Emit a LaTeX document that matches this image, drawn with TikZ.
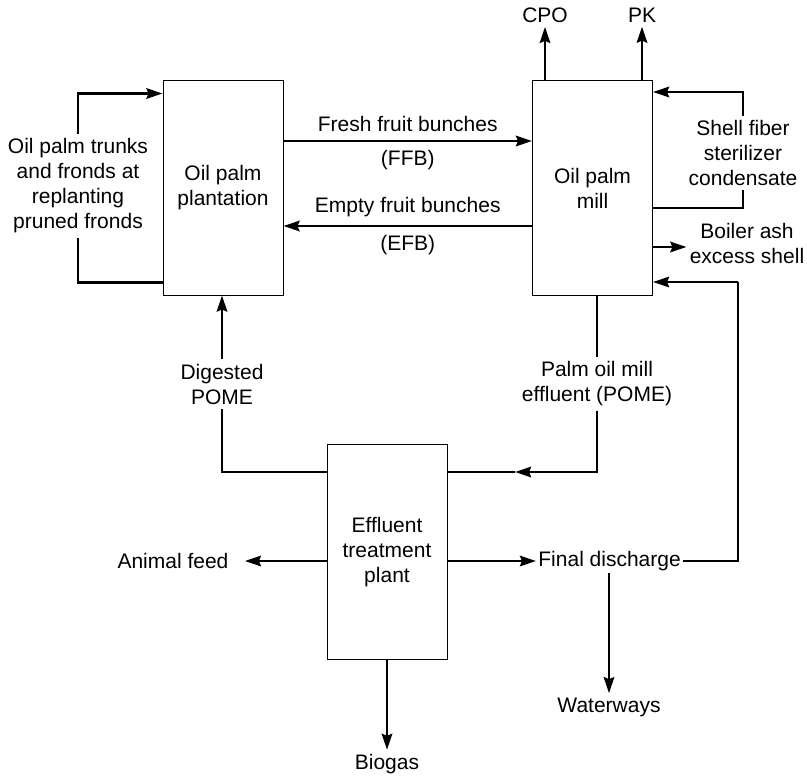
\documentclass[tikz,border=0pt]{standalone}
\usepackage{fontspec}
\setmainfont{Liberation Sans}
\usetikzlibrary{arrows.meta, positioning}

\begin{document}
\begin{tikzpicture}[
    x=0.5pt, y=-0.5pt,
    box/.style={rectangle, draw, line width=0.5pt, minimum width=60pt, minimum height=107.5pt, font=\fontsize{10.5}{12.5}\selectfont, align=center, inner sep=0pt},
    txt/.style={font=\fontsize{10.5}{12.5}\selectfont, align=center, inner sep=2pt},
    arrow/.style={-{Stealth[length=8pt, width=5.2pt, inset=1pt]}, line width=1.4pt},
    line/.style={line width=1.4pt}
]
\useasboundingbox (0,0) rectangle (807,776);

% Main blocks
\node[box] (plant) at (223,187.5) {Oil palm\\plantation};
\node[box] (mill) at (592.5,188) {Oil palm\\mill};
\node[box] (etp) at (387,552) {Effluent\\treatment\\plant};

% Labels round the plantation and mill
\node[txt] (trunks) at (78,186) {Oil palm trunks\\and fronds at\\replanting\\pruned fronds};
\node[txt] (cpo) at (545,15) {CPO};
\node[txt] (pk) at (642,15) {PK};
\node[txt] (shell) at (743,153) {Shell fiber\\sterilizer\\condensate};
\node[txt, inner sep=0pt] (boiler) at (747,243) {Boiler ash\\excess shell};
\node[txt] (pome) at (597,384) {Palm oil mill\\effluent (POME)};
\node[txt] (dig) at (222,384) {Digested\\POME};

% Labels round the treatment plant
\node[txt] (feed) at (173,561) {Animal feed};
\node[txt, anchor=west, inner sep=1pt] (final) at (536,561) {Final discharge};
\node[txt] (water) at (609,707) {Waterways};
\node[txt] (biogas) at (387,764) {Biogas};

\coordinate (pomeline) at (515,472);
\coordinate (loopr) at (738,282);

% Plantation <-> mill
\draw[arrow] (plant.east |- 0,141) -- node[txt, above=2pt]{Fresh fruit bunches} node[txt, below=2pt]{(FFB)} (mill.west |- 0,141);
\draw[arrow] (mill.west |- 0,226) -- node[txt, above=2pt]{Empty fruit bunches} node[txt, below=2pt]{(EFB)} (plant.east |- 0,226);

% Plantation loop
\draw[arrow] (trunks.north) |- ([yshift=-7pt]plant.north west);
\draw[line] (trunks.south) |- ([yshift=6.5pt]plant.south west);

% Mill outputs
\draw[arrow] (mill.north -| cpo) -- (cpo.south);
\draw[arrow] (mill.north -| pk) -- (pk.south);
\draw[arrow] (shell.north) |- ([yshift=-6pt]mill.north east);
\draw[line] (shell.south) |- ([yshift=-10pt]mill.east);
\draw[arrow] (mill.east |- 0,247) -- ([xshift=-1.5pt]boiler.west |- 0,247);

% POME to treatment
\draw[line] (mill.south -| pome) -- (pome.north);
\draw[arrow] (pome.south) |- (pomeline);
\draw[line] (pomeline) -- (etp.east |- pomeline);

% Digested POME back to plantation
\draw[line] (etp.west |- pomeline) -| (dig.south);
\draw[arrow] (dig.north) -- (plant.south -| dig);

% Treatment outputs
\draw[arrow] (etp.west |- feed) -- ([xshift=6pt]feed.east);
\draw[arrow] (etp.east |- final) -- (final.west);
\draw[arrow] (etp.south) -- (biogas.north);
\draw[arrow] (final.south -| water) -- (water.north);
\draw[line] (final.east) -| (loopr);
\draw[arrow] (loopr) -- (mill.east |- loopr);

\end{tikzpicture}
\end{document}
